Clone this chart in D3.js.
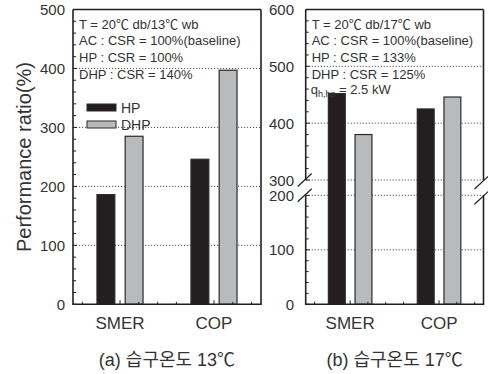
<!DOCTYPE html>
<html>
<head>
<meta charset="utf-8">
<script src="https://cdn.jsdelivr.net/npm/d3@7"></script>
<style>
  body { margin: 0; background: #fff; }
  svg text { font-family: "Liberation Sans", Arial, "Noto Sans CJK KR", sans-serif; fill: #333; }
</style>
</head>
<body>
<div class="visContainer"></div>
<script>
// Data.
const categories = ['SMER', 'COP'];
const series = ['HP', 'DHP'];
const hp13 = [186, 246];
const dhp13 = [285, 397];
const hp17 = [452, 425];
const dhp17 = [380, 446];
const ticksA = [0, 100, 200, 300, 400, 500];
const ticksB = [0, 100, 200, 300, 400, 500, 600];
const notesA = ['T = 20\u2103 db/13\u2103 wb', 'AC : CSR = 100%(baseline)', 'HP : CSR = 100%', 'DHP : CSR = 140%'];
const notesB = ['T = 20\u2103 db/17\u2103 wb', 'AC : CSR = 100%(baseline)', 'HP : CSR = 133%', 'DHP : CSR = 125%'];
const titleA = '(a) 습구온도 13\u2103';
const titleB = '(b) 습구온도 17\u2103';

const width = 488;
const height = 374;
const colors = { HP: '#231f20', DHP: '#b9babc' };

const svg = d3.select('.visContainer')
              .append('svg')
              .attr('width', width)
              .attr('height', height);

// Y axis title.
svg.append('text')
   .attr('transform', 'translate(31,157) rotate(-90)')
   .attr('text-anchor', 'middle')
   .style('font-size', '20px')
   .text('Performance ratio(%)');

function panel(opts) {
    const x = d3.scaleLinear().domain([0.5, 2.5]).range([opts.left, opts.right]);
    const y = opts.y;
    const top = 9.5, bottom = 304.3;
    const g = svg.append('g');

    // Grid lines.
    g.selectAll('.grid')
     .data(opts.ticks.filter((d) => d > 0 && y(d) > top + 2))
     .enter()
     .append('line')
     .attr('x1', opts.left).attr('x2', opts.right)
     .attr('y1', (d) => y(d)).attr('y2', (d) => y(d))
     .attr('stroke', '#555')
     .attr('stroke-width', 1)
     .attr('stroke-dasharray', '1.2,1.8');

    // Bars.
    const rows = categories.map((c, i) => ({ cat: c, i: i, HP: opts.hp[i], DHP: opts.dhp[i] }));
    const barW = 0.19;
    series.forEach((s, k) => {
        const off = k === 0 ? -0.15 : 0.15;
        g.selectAll('.bar-' + s)
         .data(rows)
         .enter()
         .append('rect')
         .attr('x', (d) => x(d.i + 1 + off - barW / 2))
         .attr('width', (d) => x(d.i + 1 + barW / 2) - x(d.i + 1 - barW / 2))
         .attr('y', (d) => y(d[s]))
         .attr('height', (d) => y(0) - y(d[s]))
         .attr('fill', colors[s])
         .attr('stroke', '#2a2a2a')
         .attr('stroke-width', 1.2);
    });

    // Minor and major ticks (inward).
    const yMinor = d3.range(0, opts.maxV + 1, 20).filter((v) => !opts.gap || v <= opts.gap[0] || v >= opts.gap[1]);
    g.selectAll('.ytick')
     .data(yMinor)
     .enter()
     .append('line')
     .attr('x1', opts.left).attr('x2', (d) => opts.left + (d % 100 === 0 ? 4 : 3))
     .attr('y1', (d) => y(d)).attr('y2', (d) => y(d))
     .attr('stroke', '#231f20').attr('stroke-width', 1);
    g.selectAll('.xtick')
     .data(d3.range(0.6, 2.45, 0.2))
     .enter()
     .append('line')
     .attr('x1', (d) => x(d)).attr('x2', (d) => x(d))
     .attr('y1', bottom).attr('y2', (d) => bottom - (Math.abs(d - Math.round(d)) < 0.01 ? 4 : 2.5))
     .attr('stroke', '#231f20').attr('stroke-width', 1);

    // Frame.
    const frame = g.append('g').attr('stroke', '#231f20').attr('stroke-width', 1.6).attr('fill', 'none');
    frame.append('line').attr('x1', opts.left).attr('x2', opts.right).attr('y1', top).attr('y2', top);
    frame.append('line').attr('x1', opts.left - 0.8).attr('x2', opts.right + 0.8).attr('y1', bottom).attr('y2', bottom);
    [opts.left, opts.right].forEach((xx) => {
        if (opts.gap) {
            frame.append('line').attr('x1', xx).attr('x2', xx).attr('y1', top).attr('y2', y(opts.gap[1]));
            frame.append('line').attr('x1', xx).attr('x2', xx).attr('y1', y(opts.gap[0])).attr('y2', bottom);
        } else {
            frame.append('line').attr('x1', xx).attr('x2', xx).attr('y1', top).attr('y2', bottom);
        }
    });

    // Break marks.
    if (opts.gap) {
        const marks = [];
        [opts.left - 1, opts.right - 2].forEach((xx, j) => {
            opts.gap.forEach((v) => marks.push({ x: xx, y: y(v) + (j ? 2.5 : 0) }));
        });
        g.selectAll('.brk')
         .data(marks)
         .enter()
         .append('line')
         .attr('x1', (d) => d.x - 7).attr('y1', (d) => d.y + 6.5)
         .attr('x2', (d) => d.x + 7).attr('y2', (d) => d.y - 6.5)
         .attr('stroke', '#231f20').attr('stroke-width', 1.2);
    }

    // Tick labels.
    g.selectAll('.ylab')
     .data(opts.ticks)
     .enter()
     .append('text')
     .attr('x', opts.labelX)
     .attr('y', (d) => y(d) + 5.5)
     .attr('text-anchor', 'end')
     .style('font-size', '15px')
     .text((d) => d);

    g.selectAll('.xlab')
     .data(categories)
     .enter()
     .append('text')
     .attr('x', (d, i) => x(i + 1))
     .attr('y', 329)
     .attr('text-anchor', 'middle')
     .style('font-size', '17px')
     .text((d) => d);

    // Notes.
    g.selectAll('.note')
     .data(opts.notes)
     .enter()
     .append('text')
     .attr('x', opts.left + 6)
     .attr('y', (d, i) => 28.5 + i * 16.7)
     .style('font-size', '13px')
     .text((d) => d);

    // Subtitle.
    g.append('text')
     .attr('x', (opts.left + opts.right) / 2)
     .attr('y', 366)
     .attr('text-anchor', 'middle')
     .style('font-size', '18px')
     .text(opts.title);

    return { g: g, x: x, y: y };
}

const yA = d3.scaleLinear().domain([0, 500]).range([304.3, 9.5]);
const pA = panel({ left: 73, right: 261, y: yA, ticks: ticksA, maxV: 500, hp: hp13, dhp: dhp13,
                   notes: notesA, title: titleA, labelX: 65 });

const yB = d3.scaleLinear().domain([0, 200, 300, 600]).range([304.3, 195.3, 180, 9.5]);
const pB = panel({ left: 305.7, right: 483.5, y: yB, ticks: ticksB, maxV: 600, hp: hp17, dhp: dhp17,
                   notes: notesB, title: titleB, labelX: 294, gap: [200, 300] });

// q_h,hp note on panel (b).
const q = pB.g.append('text')
            .attr('x', 305.7 + 5)
            .attr('y', 28.5 + 4 * 16.4)
            .style('font-size', '13px');
q.append('tspan').text('q');
q.append('tspan').attr('dy', 3).style('font-size', '9px').text('h,hp');
q.append('tspan').attr('dy', -3).text(' = 2.5 kW');

// Legend on panel (a).
const legend = pA.g.append('g');
legend.selectAll('rect')
      .data(series)
      .enter()
      .append('rect')
      .attr('x', 87)
      .attr('y', (d, i) => 104 + i * 17)
      .attr('width', 29)
      .attr('height', 7)
      .attr('fill', (d) => colors[d])
      .attr('stroke', '#2a2a2a')
      .attr('stroke-width', 1);
legend.selectAll('text')
      .data(series)
      .enter()
      .append('text')
      .attr('x', 121)
      .attr('y', (d, i) => 112.5 + i * 17)
      .style('font-size', '14px')
      .text((d) => d);
</script>
</body>
</html>
